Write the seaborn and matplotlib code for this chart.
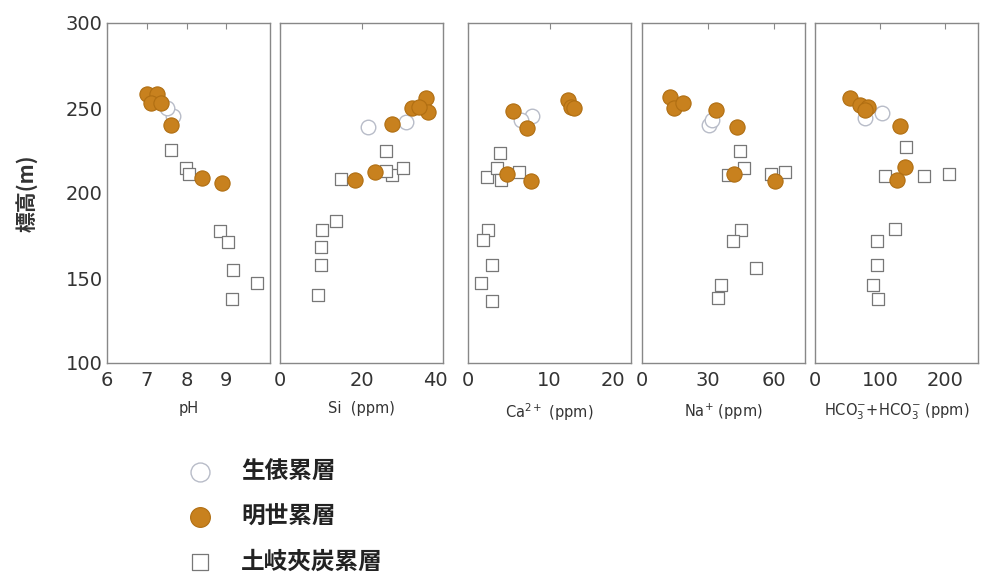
import matplotlib
matplotlib.use("Agg")
import matplotlib.pyplot as plt
import matplotlib.transforms as mtransforms
import seaborn as sns
import pandas as pd
from matplotlib.ticker import MultipleLocator

sns.set_theme(style="white")
plt.rcParams['font.family'] = ['DejaVu Sans', 'Noto Sans CJK JP']

# ---- data: (value, elevation) per formation per panel ----
# pH
ph_mei_x = [7.0, 7.25, 7.1, 7.35, 7.6, 8.4, 8.9]
ph_mei_y = [258, 258, 253, 253, 240, 209, 206]
ph_iki_x = [7.65, 7.5]
ph_iki_y = [245.5, 250]
ph_toki_x = [7.62, 7.99, 8.05, 8.84, 9.04, 9.18, 9.14, 9.78]
ph_toki_y = [225.3, 214.5, 211, 177.8, 171, 155, 137.5, 146.9]
# Si
si_mei_x = [18.5, 23.2, 27.5, 32.5, 35.8, 36.2, 34.2]
si_mei_y = [207.7, 212.6, 240.4, 249.8, 255.7, 247.8, 250.8]
si_iki_x = [21.5, 30.9]
si_iki_y = [239, 242]
si_toki_x = [25.9, 15.0, 27.6, 30.1, 26.0, 13.8, 10.2, 10.0, 10.0, 9.35]
si_toki_y = [224.9, 208.1, 210.6, 214.5, 213.0, 183.8, 178.3, 168.5, 157.7, 140]
# Ca2+
ca_mei_x = [5.5, 7.24, 4.77, 7.74, 12.3, 12.6, 13.0]
ca_mei_y = [248.4, 238.1, 211.2, 207.1, 254.7, 250.8, 249.8]
ca_iki_x = [7.9, 6.5]
ca_iki_y = [245.3, 243]
ca_toki_x = [3.95, 2.3, 3.5, 4.0, 6.3, 2.5, 1.9, 3.0, 1.6, 3.0]
ca_toki_y = [223.4, 209.6, 214.5, 207.7, 212.6, 178.3, 172.4, 157.7, 146.9, 136.7]
# Na+
na_mei_x = [12.5, 14.4, 18.6, 33.4, 43.1, 41.8, 60.5]
na_mei_y = [256.7, 249.8, 252.8, 248.8, 239, 211.2, 207.1]
na_iki_x = [30.4, 32.0]
na_iki_y = [240, 243]
na_toki_x = [44.6, 46.4, 39.1, 58.6, 64.7, 44.9, 41.1, 51.8, 35.7, 34.5]
na_toki_y = [224.9, 214.5, 210.6, 211.2, 212.6, 178.3, 172, 155.7, 146, 138]
# HCO3
hc_mei_x = [53.8, 69, 82, 76, 130.8, 138.5, 125.6]
hc_mei_y = [255.7, 251.8, 250.4, 249, 239.4, 215.5, 207.7]
hc_iki_x = [77, 102.6]
hc_iki_y = [244, 246.9]
hc_toki_x = [140, 107.7, 167.7, 205, 122, 94.9, 94.9, 88.2, 95.9]
hc_toki_y = [227.3, 210, 210.2, 211.2, 179, 172, 157.7, 146, 137.5]

legend_labels = ["生俵累層", "明世累層", "土岐夾炭累層"]
xlabels = ["pH", "Si  (ppm)", "Ca$^{2+}$ (ppm)", "Na$^{+}$ (ppm)",
           "HCO$_3^{-}$+HCO$_3^{-}$ (ppm)"]
xlims = [(6, 10.1), (0, 40), (0, 20), (0, 74), (0, 250)]
xticks = [[6, 7, 8, 9], [0, 20, 40], [0, 10, 20], [0, 30, 60], [0, 100, 200]]
ylabel = "標高(m)"

panels = [
    (ph_iki_x, ph_iki_y, ph_mei_x, ph_mei_y, ph_toki_x, ph_toki_y),
    (si_iki_x, si_iki_y, si_mei_x, si_mei_y, si_toki_x, si_toki_y),
    (ca_iki_x, ca_iki_y, ca_mei_x, ca_mei_y, ca_toki_x, ca_toki_y),
    (na_iki_x, na_iki_y, na_mei_x, na_mei_y, na_toki_x, na_toki_y),
    (hc_iki_x, hc_iki_y, hc_mei_x, hc_mei_y, hc_toki_x, hc_toki_y),
]

W, H = 992, 582
fig = plt.figure(figsize=(W / 100, H / 100), dpi=100)
lefts = [107, 280, 468, 642, 815]
aw = 163
top, bottom = 23, 363

orange = "#C8811E"
orange_edge = "#B06E12"
tick_color = "#333333"
spine_color = "#888888"
cjk = ['Noto Sans CJK JP', 'DejaVu Sans']

axes = []
for i, (ix, iy, mx, my, tx, ty) in enumerate(panels):
    ax = fig.add_axes([lefts[i] / W, 1 - bottom / H, aw / W, (bottom - top) / H])
    axes.append(ax)
    df_t = pd.DataFrame({"x": tx, "y": ty})
    df_i = pd.DataFrame({"x": ix, "y": iy})
    df_m = pd.DataFrame({"x": mx, "y": my})
    sns.scatterplot(data=df_i, x="x", y="y", ax=ax, marker="o", s=110,
                    facecolor="white", edgecolor="#B8BCC8", linewidth=1.0,
                    label=legend_labels[0], zorder=3)
    sns.scatterplot(data=df_m, x="x", y="y", ax=ax, marker="o", s=120,
                    color=orange, edgecolor=orange_edge, linewidth=0.8,
                    label=legend_labels[1], zorder=4)
    sns.scatterplot(data=df_t, x="x", y="y", ax=ax, marker="s", s=70,
                    facecolor="white", edgecolor="#777777", linewidth=0.9,
                    label=legend_labels[2], zorder=2)
    ax.set_xlim(*xlims[i])
    ax.set_ylim(100, 300)
    ax.set_xticks(xticks[i])
    ax.yaxis.set_major_locator(MultipleLocator(50))
    ax.yaxis.set_minor_locator(MultipleLocator(25))
    ax.tick_params(axis="both", which="both", direction="in", top=True,
                   color=spine_color, length=4, width=0.8)
    ax.tick_params(axis="x", labelsize=14, labelcolor=tick_color, pad=6)
    ax.tick_params(axis="y", labelsize=14, labelcolor=tick_color, pad=3)
    for sp in ax.spines.values():
        sp.set_color(spine_color)
        sp.set_linewidth(1.0)
    ax.set_xlabel(xlabels[i], fontsize=10.5, color=tick_color, labelpad=8)
    if i == 0:
        ax.set_ylabel(ylabel, fontsize=15, fontweight="bold", color=tick_color,
                      labelpad=20, family=cjk)
    else:
        ax.set_ylabel("")
        ax.tick_params(axis="y", labelleft=False)
    ax.legend_.remove()

# nudge crowded tick labels left, as in the reference
def nudge(ax, text, dx_px):
    off = mtransforms.ScaledTranslation(dx_px / 100, 0, fig.dpi_scale_trans)
    for lab in ax.get_xticklabels():
        if lab.get_text() == text:
            lab.set_transform(lab.get_transform() + off)

fig.canvas.draw()
nudge(axes[1], "40", -8)
nudge(axes[2], "20", -18)

handles, labels = axes[0].get_legend_handles_labels()
leg = fig.legend(handles, labels, loc="upper left",
                 bbox_to_anchor=(176 / W, 1 - 459 / H), frameon=False,
                 prop={"size": 17, "weight": "bold", "family": cjk},
                 labelspacing=0.9, handlelength=2.0, handletextpad=0.75,
                 borderpad=0, borderaxespad=0, markerscale=1.3)
for t in leg.get_texts():
    t.set_color("#222222")

fig.savefig("out.png", dpi=100)
